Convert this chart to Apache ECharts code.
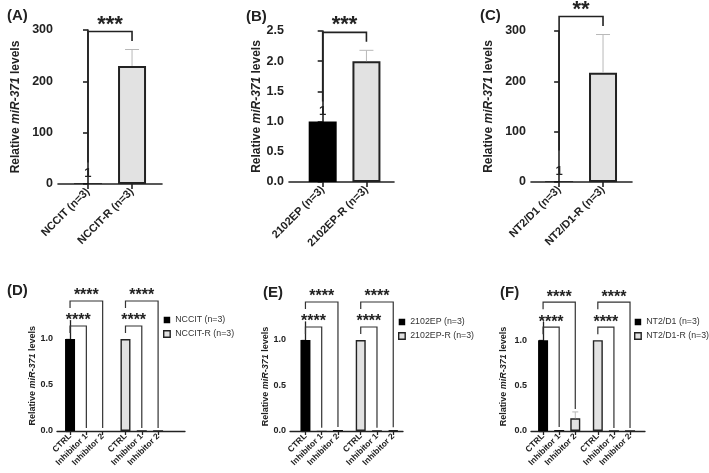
<!DOCTYPE html>
<html>
<head>
<meta charset="utf-8">
<script src="https://cdn.jsdelivr.net/npm/echarts@6/dist/echarts.min.js"></script>
<style>html,body{margin:0;padding:0;background:#fff}#c{width:709px;height:473px}</style>
</head>
<body>
<div id="c"></div>
<script>
// ---------- data ----------
const catsA = ['NCCIT (n=3)', 'NCCIT-R (n=3)'];
const meansA = [1, 230];
const sdA = [0, 32];
const catsB = ['2102EP (n=3)', '2102EP-R (n=3)'];
const meansB = [1, 2.0];
const sdB = [0, 0.18];
const catsC = ['NT2/D1 (n=3)', 'NT2/D1-R (n=3)'];
const meansC = [1, 217];
const sdC = [0, 76];
const sigTop = ['***', '***', '**'];

const treatments = ['CTRL', 'Inhibitor 1', 'Inhibitor 2'];
const legendD = ['NCCIT (n=3)', 'NCCIT-R (n=3)'];
const legendE = ['2102EP (n=3)', '2102EP-R (n=3)'];
const legendF = ['NT2/D1 (n=3)', 'NT2/D1-R (n=3)'];
const parD = [1, 0, 0];
const parDsd = [0, 0, 0];
const resD = [1, 0, 0];
const resDsd = [0, 0, 0];
const parE = [1, 0.002, 0.01];
const parEsd = [0, 0, 0];
const resE = [1, 0.002, 0.008];
const resEsd = [0, 0, 0];
const parF = [1, 0.01, 0.14];
const parFsd = [0, 0, 0.07];
const resF = [1, 0, 0];
const resFsd = [0, 0, 0];
const sigBottom = ['****', '****'];
const yTicksBottom = [0, 0.5, 1.0];

// ---------- styles ----------
const FONT = 'Liberation Sans, Arial, sans-serif';
const INK = '#222';
const GREY = '#e2e2e2';
const ERR = '#b8b8b8';

const chart = echarts.init(document.getElementById('c'), null, {renderer: 'canvas'});

const grids = [], xAxes = [], yAxes = [], series = [], legends = [], titles = [];

function yName(size) {
  return {
    name: '{a|Relative }{i|miR-371}{a| levels}',
    nameTextStyle: {
      rich: {
        a: {fontFamily: FONT, fontWeight: 'bold', fontSize: size, color: INK},
        i: {fontFamily: FONT, fontWeight: 'bold', fontStyle: 'italic', fontSize: size, color: INK}
      }
    }
  };
}

function errSeries(idx, data, capW) {
  return {
    type: 'custom', xAxisIndex: idx, yAxisIndex: idx, z: 5, silent: true,
    data: data,
    renderItem: function (params, api) {
      const x = api.value(0), m = api.value(1), t = api.value(2);
      if (!(t > m)) return null;
      const p1 = api.coord([x, m]), p2 = api.coord([x, t]);
      const st = {stroke: ERR, lineWidth: 1};
      return {type: 'group', children: [
        {type: 'line', shape: {x1: p1[0], y1: p1[1], x2: p2[0], y2: p2[1]}, style: st},
        {type: 'line', shape: {x1: p2[0] - capW / 2, y1: p2[1], x2: p2[0] + capW / 2, y2: p2[1]}, style: st}
      ]};
    }
  };
}

// ---------- top panels ----------
const topPanels = [
  {t: '(A)', tl: 2, tt: 3, cats: catsA, means: meansA, sds: sdA, sig: sigTop[0],
   grid: {left: 58, top: 30, width: 104, height: 154}, xmin: -0.68, xmax: 1.68,
   ymax: 300, interval: 100, dec: 0, nameGap: 36, leftOff: 21},
  {t: '(B)', tl: 241, tt: 4, cats: catsB, means: meansB, sds: sdB, sig: sigTop[1],
   grid: {left: 289, top: 31, width: 105, height: 151}, xmin: -0.77, xmax: 1.63,
   ymax: 2.5, interval: 0.5, dec: 1, nameGap: 25, leftOff: 20},
  {t: '(C)', tl: 475, tt: 3, cats: catsC, means: meansC, sds: sdC, sig: sigTop[2],
   grid: {left: 531, top: 31, width: 101, height: 151}, xmin: -0.64, xmax: 1.66,
   ymax: 300, interval: 100, dec: 0, nameGap: 36, leftOff: 31}
];

topPanels.forEach(function (p, k) {
  const idx = grids.length;
  grids.push(p.grid);
  titles.push({text: p.t, left: p.tl, top: p.tt, textStyle: {fontFamily: FONT, fontSize: 15, fontWeight: 'bold', color: INK}});
  xAxes.push({
    gridIndex: idx, type: 'value', min: p.xmin, max: p.xmax,
    splitLine: {show: false},
    axisLine: {lineStyle: {color: INK, width: 1.6}},
    axisTick: {show: true, customValues: [0, 1], length: 5, lineStyle: {color: INK, width: 1.6}},
    axisLabel: {customValues: [0, 1], rotate: 45, margin: 6, fontFamily: FONT, fontWeight: 'bold', fontSize: 11, color: INK,
      formatter: function (v) { return p.cats[Math.round(v)]; }}
  });
  yAxes.push(Object.assign({
    gridIndex: idx, type: 'value', min: 0, max: p.ymax, interval: p.interval,
    splitLine: {show: false},
    axisLine: {show: true, lineStyle: {color: INK, width: 1.6}},
    axisTick: {show: true, length: 5, lineStyle: {color: INK, width: 1.6}},
    axisLabel: {margin: 5, fontFamily: FONT, fontWeight: 'bold', fontSize: 12.5, color: INK,
      formatter: function (v) { return v.toFixed(p.dec); }},
    nameLocation: 'middle', nameRotate: 90, nameGap: p.nameGap
  }, yName(12)));
  series.push({
    type: 'bar', name: 'top' + k, xAxisIndex: idx, yAxisIndex: idx, barWidth: 28,
    data: [
      {value: [0, p.means[0]], itemStyle: {color: '#000', borderWidth: 0},
       label: {show: true, position: 'top', distance: 4, formatter: '1', fontFamily: FONT, fontWeight: 'bold', fontSize: 13, color: INK}},
      {value: [1, p.means[1]], itemStyle: {color: GREY, borderColor: INK, borderWidth: 2}}
    ]
  });
  series.push(errSeries(idx, p.cats.map(function (c, i) { return [i, p.means[i], p.means[i] + p.sds[i]]; }), 14));
  series.push({
    type: 'custom', xAxisIndex: idx, yAxisIndex: idx, z: 6, silent: true,
    data: [[0, 1, p.means[0], p.means[1] + p.sds[1]]],
    renderItem: function (params, api) {
      const pl = api.coord([api.value(0), api.value(2)]);
      const pr = api.coord([api.value(1), api.value(3)]);
      const rb = pr[1] - 8.5, top = rb - 9.5, lb = pl[1] - p.leftOff;
      return {type: 'group', children: [
        {type: 'polyline', shape: {points: [[pl[0], lb], [pl[0], top], [pr[0], top], [pr[0], rb]]},
         style: {stroke: INK, lineWidth: 1.6, fill: null}},
        {type: 'text', style: {text: p.sig, x: (pl[0] + pr[0]) / 2, y: top - 7, align: 'center', verticalAlign: 'middle',
          font: 'bold 22px ' + FONT, fill: INK}}
      ]};
    }
  });
});

// ---------- bottom panels ----------
const gapUnits = 1.4;
const pos = [0, 1, 2, 2 + gapUnits, 3 + gapUnits, 4 + gapUnits];
const botLabels = treatments.concat(treatments);

const botPanels = [
  {t: '(D)', tl: 2, tt: 278, leg: legendD, par: parD, parsd: parDsd, res: resD, ressd: resDsd,
   grid: {left: 57, top: 320.6, width: 128, height: 110.4}, xmin: -0.8, xmax: 7.05, nameGap: 20,
   legPos: {left: 163, top: 315.5}},
  {t: '(E)', tl: 258, tt: 280, leg: legendE, par: parE, parsd: parEsd, res: resE, ressd: resEsd,
   grid: {left: 290, top: 321.8, width: 113, height: 109.2}, xmin: -0.95, xmax: 6.0, nameGap: 17,
   legPos: {left: 398, top: 317.5}},
  {t: '(F)', tl: 495, tt: 280, leg: legendF, par: parF, parsd: parFsd, res: resF, ressd: resFsd,
   grid: {left: 531, top: 322, width: 114, height: 109}, xmin: -0.75, xmax: 6.33, nameGap: 23,
   legPos: {left: 634, top: 317.5}, greyPar: [2]}
];

botPanels.forEach(function (p) {
  const idx = grids.length;
  grids.push(p.grid);
  titles.push({text: p.t, left: p.tl, top: p.tt, textStyle: {fontFamily: FONT, fontSize: 15, fontWeight: 'bold', color: INK}});
  xAxes.push({
    gridIndex: idx, type: 'value', min: p.xmin, max: p.xmax,
    splitLine: {show: false},
    axisLine: {lineStyle: {color: INK, width: 1.3}},
    axisTick: {show: true, customValues: pos, length: 4, lineStyle: {color: INK, width: 1.3}},
    axisLabel: {customValues: pos, rotate: 45, margin: 4, fontFamily: FONT, fontWeight: 'bold', fontSize: 8.5, color: INK,
      formatter: function (v) {
        let best = 0;
        pos.forEach(function (q, i) { if (Math.abs(q - v) < Math.abs(pos[best] - v)) best = i; });
        return botLabels[best];
      }}
  });
  yAxes.push(Object.assign({
    gridIndex: idx, type: 'value', min: 0, max: 1.2,
    splitLine: {show: false},
    axisLine: {show: true, lineStyle: {color: INK, width: 1.3}},
    axisTick: {show: true, customValues: yTicksBottom, length: 4, lineStyle: {color: INK, width: 1.3}},
    axisLabel: {customValues: yTicksBottom, margin: 4, fontFamily: FONT, fontWeight: 'bold', fontSize: 9, color: INK,
      formatter: function (v) { return v.toFixed(1); }},
    nameLocation: 'middle', nameRotate: 90, nameGap: p.nameGap
  }, yName(9)));
  const greyIdx = p.greyPar || [];
  series.push({
    type: 'bar', name: p.leg[0], xAxisIndex: idx, yAxisIndex: idx, barWidth: 10, barGap: '-100%',
    itemStyle: {color: '#000', borderColor: INK, borderWidth: 0},
    data: p.par.map(function (v, i) {
      const d = {value: [pos[i], v]};
      if (greyIdx.indexOf(i) >= 0) d.itemStyle = {color: GREY, borderColor: INK, borderWidth: 1.4};
      return d;
    })
  });
  series.push({
    type: 'bar', name: p.leg[1], xAxisIndex: idx, yAxisIndex: idx, barWidth: 10, barGap: '-100%',
    itemStyle: {color: GREY, borderColor: INK, borderWidth: 1.4},
    data: p.res.map(function (v, i) { return [pos[3 + i], v]; })
  });
  const errData = [];
  p.par.forEach(function (v, i) { errData.push([pos[i], v, v + p.parsd[i]]); });
  p.res.forEach(function (v, i) { errData.push([pos[3 + i], v, v + p.ressd[i]]); });
  series.push(errSeries(idx, errData, 6));
  // significance brackets: [xLeft, xRight, yLeftRef, yRightRef, level]
  const br = [];
  [0, 3].forEach(function (o) {
    const vals = o === 0 ? p.par : p.res, sds = o === 0 ? p.parsd : p.ressd;
    br.push([pos[o], pos[o + 1], vals[0], vals[1] + sds[1], 0]);
    br.push([pos[o], pos[o + 2], vals[0], vals[2] + sds[2], 1]);
  });
  series.push({
    type: 'custom', xAxisIndex: idx, yAxisIndex: idx, z: 6, silent: true,
    data: br,
    renderItem: function (params, api) {
      const lvl = api.value(4);
      const pl = api.coord([api.value(0), api.value(2)]);
      const pr = api.coord([api.value(1), api.value(3)]);
      const top = pl[1] - (lvl ? 38 : 13), lb = pl[1] - (lvl ? 31 : 6), rb = pr[1] - 3;
      return {type: 'group', children: [
        {type: 'polyline', shape: {points: [[pl[0], lb], [pl[0], top], [pr[0], top], [pr[0], rb]]},
         style: {stroke: '#333', lineWidth: 1.2, fill: null}},
        {type: 'text', style: {text: sigBottom[lvl], x: (pl[0] + pr[0]) / 2, y: top - 5, align: 'center', verticalAlign: 'middle',
          font: 'bold 16px ' + FONT, fill: INK}}
      ]};
    }
  });
  legends.push({
    orient: 'vertical', left: p.legPos.left, top: p.legPos.top, padding: 0,
    itemWidth: 6.5, itemHeight: 6.5, itemGap: 5,
    selectedMode: false, icon: 'rect',
    textStyle: {fontFamily: FONT, fontSize: 8.8, color: '#333'},
    data: [
      {name: p.leg[0], itemStyle: {color: '#000', borderColor: INK, borderWidth: 0}},
      {name: p.leg[1], itemStyle: {color: GREY, borderColor: INK, borderWidth: 1.4}}
    ]
  });
});

chart.setOption({
  animation: false,
  backgroundColor: '#fff',
  title: titles,
  grid: grids,
  xAxis: xAxes,
  yAxis: yAxes,
  legend: legends,
  series: series
});
</script>
</body>
</html>
